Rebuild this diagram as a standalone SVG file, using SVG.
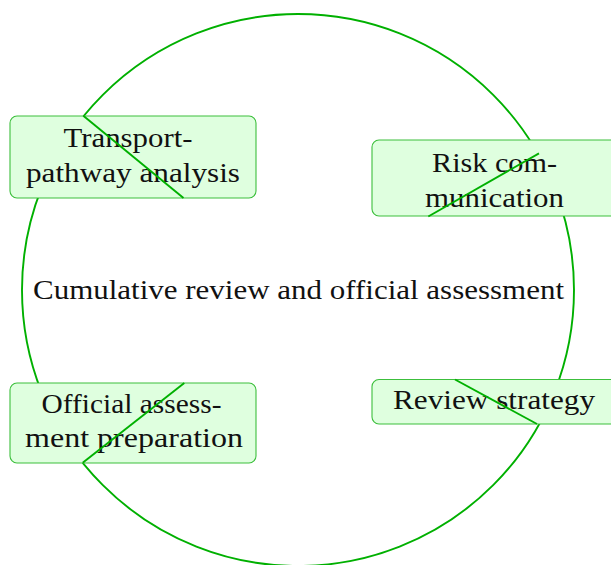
<svg xmlns="http://www.w3.org/2000/svg" width="611" height="565" viewBox="0 0 611 565">
<style>
.ring{fill:none;stroke:#00b000;stroke-width:1.9}
.box{fill:#dfffdf;stroke:#3cbf3c;stroke-width:1.1}
.lbl{font-family:"Liberation Serif","DejaVu Serif",serif;font-size:27px;fill:#111111}
.chord{stroke:#00b000;stroke-width:1.9;fill:none}
</style>
<rect width="611" height="565" fill="#ffffff"/>
<g id="cycle">
<circle class="ring" cx="298" cy="290" r="276"/>
<text class="lbl" x="33" y="298.5" textLength="531" lengthAdjust="spacingAndGlyphs">Cumulative review and official assessment</text>
</g>
<g id="node-transport">
<rect class="box" x="10" y="116" width="246" height="82" rx="7"/>
<text class="lbl" x="63.5" y="147" textLength="129" lengthAdjust="spacingAndGlyphs">Transport-</text>
<text class="lbl" x="26" y="182" textLength="214" lengthAdjust="spacingAndGlyphs">pathway analysis</text>
</g>
<g id="node-risk">
<rect class="box" x="372" y="140" width="246" height="76" rx="7"/>
<text class="lbl" x="432" y="172" textLength="125" lengthAdjust="spacingAndGlyphs">Risk com-</text>
<text class="lbl" x="425" y="207" textLength="139" lengthAdjust="spacingAndGlyphs">munication</text>
</g>
<g id="node-official">
<rect class="box" x="10" y="383" width="246" height="80" rx="7"/>
<text class="lbl" x="41.5" y="413" textLength="180" lengthAdjust="spacingAndGlyphs">Official assess-</text>
<text class="lbl" x="25" y="447" textLength="218" lengthAdjust="spacingAndGlyphs">ment preparation</text>
</g>
<g id="node-review">
<rect class="box" x="372" y="379.5" width="246" height="44.5" rx="7"/>
<text class="lbl" x="393" y="408.5" textLength="202" lengthAdjust="spacingAndGlyphs">Review strategy</text>
</g>
<g id="connectors">
<line class="chord" x1="83.3" y1="115.7" x2="183.5" y2="198"/>
<line class="chord" x1="539" y1="153.3" x2="428.3" y2="216.5"/>
<line class="chord" x1="184.3" y1="383" x2="82.7" y2="462.7"/>
<line class="chord" x1="455" y1="379.5" x2="537" y2="424"/>
</g>
</svg>
